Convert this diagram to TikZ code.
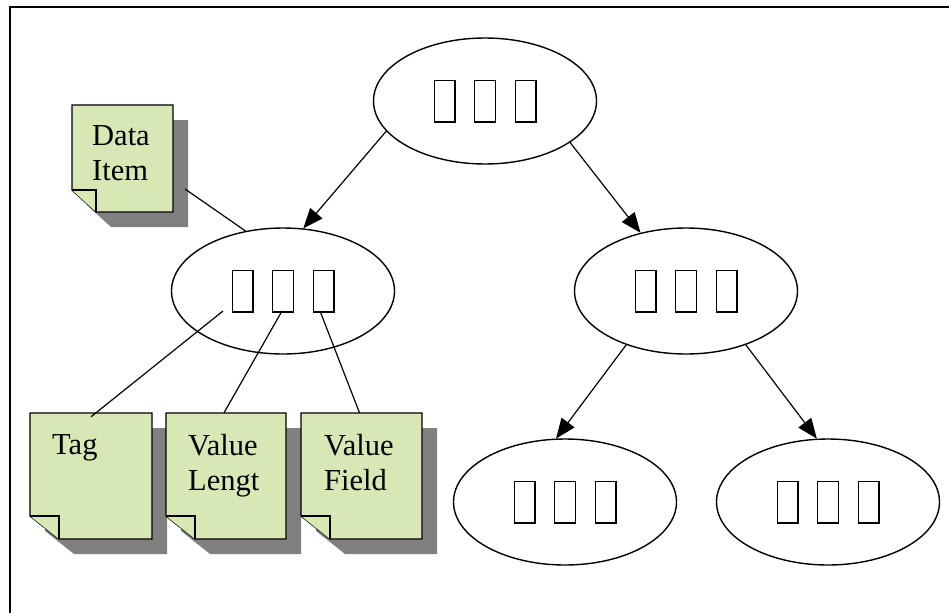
\documentclass[tikz,border=0pt]{standalone}
\usepackage{fontspec}
\setmainfont{Liberation Serif}
\usetikzlibrary{arrows.meta,shapes.geometric}
\definecolor{notegreen}{RGB}{215,232,180}
\definecolor{shadowgray}{RGB}{128,128,128}
% missing-glyph box, as the reference prints it
\newcommand\tofubox{\makebox[40.5pt]{\setlength{\fboxsep}{0pt}\setlength{\fboxrule}{1.3pt}\fbox{\rule{0pt}{40.4pt}\hspace{19.4pt}}}}
\newcommand\tofutext{\tofubox\tofubox\tofubox}
% note paper: x0,y0,x1,y1,foldw,foldh,name
\newcommand\notepaper[7]{%
  \fill[shadowgray] (#1+15,#2+15) -- (#3+15,#2+15) -- (#3+15,#4+15) -- (#1+#5+15,#4+15) -- (#1+15,#4-#6+15) -- cycle;
  \draw[notefill] (#1,#2) -- (#3,#2) -- (#3,#4) -- (#1+#5,#4) -- (#1,#4-#6) -- cycle;
  \draw[notefill] (#1,#4-#6) -- (#1+#5,#4-#6) -- (#1+#5,#4);
  \node[notearea, minimum width=#3-#1, minimum height=#4-#2] (#7) at ({(#1+#3)/2},{(#2+#4)/2}) {};
}
\begin{document}
\begin{tikzpicture}[x=1pt,y=-1pt,
  ell/.style={draw, line width=1.4pt, ellipse, minimum width=223pt, minimum height=126pt, inner sep=0pt},
  arr/.style={-{Triangle[length=20pt,width=16pt]}, line width=1.2pt},
  link/.style={line width=1.2pt},
  notefill/.style={fill=notegreen, line width=1.3pt, line join=miter},
  notearea/.style={inner sep=0pt, draw=none},
  notetext/.style={anchor=base west, align=left, inner sep=0pt, font=\fontsize{30.5}{35}\selectfont}
]
\useasboundingbox (0,0) rectangle (949,613);
\draw[line width=1.5pt] (10,613) -- (10,7) -- (949,7);

% ellipses
\node[ell] (top) at (485,101) {\tofutext};
\node[ell] (lm) at (283,291) {\tofutext};
\node[ell] (rm) at (686,291) {\tofutext};
\node[ell] (bl) at (565,502) {\tofutext};
\node[ell] (br) at (828,502) {\tofutext};

% arrows
\draw[arr] (top.197) -- (lm.72);
\draw[arr] (top.334) -- (rm.128);
\draw[arr] (rm.222) -- (bl.98);
\draw[arr] (rm.318) -- (br.100);

% notes
\notepaper{72}{105}{173}{212}{24}{22}{dataitem}
\notepaper{30}{413}{152}{539}{29}{23}{tag}
\notepaper{166}{413}{286}{539}{29}{23}{vlen}
\notepaper{301}{413}{422}{539}{29}{23}{vfield}

% multi-line nodes: base anchor is the last line's baseline
\node[notetext] (ditext) at (92,180) {Data\\Item};
\node[notetext] (tagtext) at (52,454) {Tag};
\node[notetext] (vlentext) at (188,490) {Value\\Lengt};
\node[notetext] (vfieldtext) at (324,490) {Value\\Field};

% links
\coordinate (dilink) at (185,189);
\coordinate (tagsrc) at (223,311);
\coordinate (lensrc) at (282,311);
\coordinate (fieldsrc) at (320,311);
\draw[link] (dilink) -- (lm.122);
\draw[link] (tagsrc) -- ([yshift=-4pt]tag.north);
\draw[link] (lensrc) -- ([xshift=-2pt]vlen.north);
\draw[link] (fieldsrc) -- ([xshift=-2pt]vfield.north);
\end{tikzpicture}
\end{document}
